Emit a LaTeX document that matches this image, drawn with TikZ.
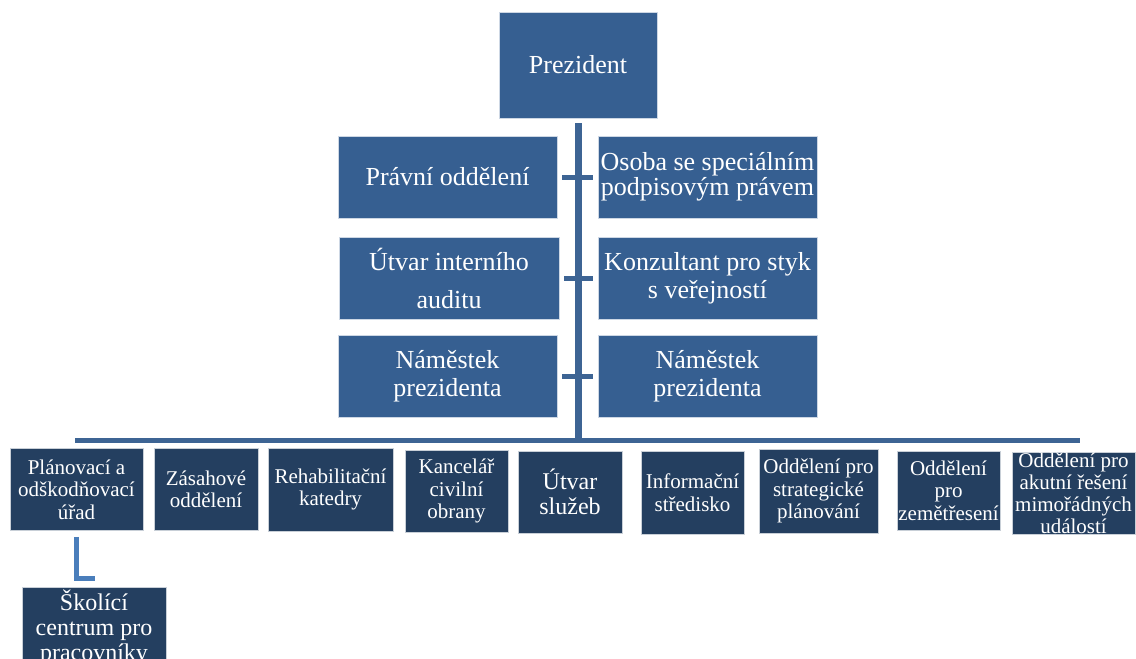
\documentclass[tikz,border=0pt]{standalone}
\usepackage{fontspec}
\setmainfont{Liberation Serif}
\usepackage{tikz}
\usetikzlibrary{positioning,calc}
\definecolor{topblue}{HTML}{365F91}
\definecolor{deptblue}{HTML}{243F60}
\definecolor{linkblue}{HTML}{3D6494}
\definecolor{subblue}{HTML}{4A7EBB}

\begin{document}
\begin{tikzpicture}[x=1pt, y=-1pt,
    topbox/.style={draw=white!75!topblue, line width=0.8pt, fill=topblue, text=white, align=center,
        inner sep=0pt, minimum width=219pt, minimum height=82pt, font=\fontsize{26}{28}\selectfont},
    deptbox/.style={draw=white!75!deptblue, line width=0.8pt, fill=deptblue, text=white, align=center,
        inner sep=0pt, minimum height=82pt, font=\fontsize{21}{22.5}\selectfont},
    link/.style={linkblue, line width=5pt}]
    \useasboundingbox (0,0) rectangle (1136,659);
    \clip (0,0) rectangle (1136,659);

    % Top
    \node[topbox, minimum width=158pt, minimum height=106pt] (prez) at (578,65) {Prezident};
    \coordinate (bar) at (578,440);
    \draw[link, line width=7pt] ($(prez.south)+(0,5)$) -- (bar);

    % Staff
    \node[topbox] (pravni) at (447.5,177) {Právní oddělení};
    \node[topbox] (osoba) at (707.5,177) {Osoba se speciálním\\[-3pt]podpisovým právem};
    \node[topbox, minimum width=220pt] (utvar) at (449,278) {Útvar interního\\[10pt]auditu};
    \node[topbox] (konz) at (707.5,278) {Konzultant pro styk\\s veřejností};
    \node[topbox] (nam1) at (447.5,376) {Náměstek\\prezidenta};
    \node[topbox] (nam2) at (707.5,376) {Náměstek\\prezidenta};
    \foreach \l/\r in {pravni/osoba, utvar/konz, nam1/nam2}
        \draw[link] ($(\l.east)+(5,0)$) -- ($(\r.west)+(-5,0)$);

    % Departments
    \coordinate (barL) at (75,440);
    \coordinate (barR) at (1080,440);
    \draw[link] (barL) -- (barR);
    \node[deptbox, minimum width=133pt] (plan) at (76.5,489.5) {Plánovací a\\odškodňovací\\úřad};
    \node[deptbox, minimum width=104pt] (zas) at (206,489.5) {Zásahové\\oddělení};
    \node[deptbox, minimum width=125pt, minimum height=83pt] (reha) at (330.5,489.5) {Rehabilitační\\katedry};
    \node[deptbox, minimum width=103pt] (kanc) at (456.5,491) {Kancelář\\civilní\\obrany};
    \node[deptbox, minimum width=104pt, font=\fontsize{24}{25}\selectfont] (sluz) at (570,492) {Útvar\\služeb};
    \node[deptbox, minimum width=103pt, minimum height=83pt] (info) at (692.5,492.5) {Informační\\středisko};
    \node[deptbox, minimum width=119pt, minimum height=84pt] (strat) at (818.5,491) {Oddělení pro\\strategické\\plánování};
    \node[deptbox, minimum width=103pt, minimum height=79pt] (zeme) at (948.5,490.5) {Oddělení\\pro\\zemětřesení};
    \node[deptbox, minimum width=123pt, font=\fontsize{21}{22}\selectfont] (akut) at (1073.5,493) {Oddělení pro\\akutní řešení\\mimořádných\\událostí};

    % Sub-unit
    \node[deptbox, minimum width=144pt, minimum height=0pt, inner ysep=2pt, anchor=north,
        font=\fontsize{24}{25}\selectfont] (skol) at (94,587) {Školící\\centrum pro\\pracovníky};
    \draw[subblue, line width=5pt] ($(plan.south)+(0,6)$) |- ($(skol.north)+(1,-9)$);
\end{tikzpicture}
\end{document}
